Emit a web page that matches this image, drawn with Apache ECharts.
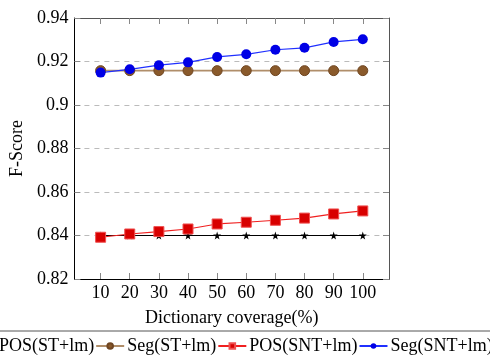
<!DOCTYPE html>
<html><head><meta charset="utf-8">
<script src="https://cdn.jsdelivr.net/npm/echarts@6/dist/echarts.min.js"></script>
<style>html,body{margin:0;padding:0;background:#fff}#c{width:490px;height:356px}</style>
</head><body><div id="c"></div>
<script>
const coverage = [10, 20, 30, 40, 50, 60, 70, 80, 90, 100];
const posST = [0.8400, 0.8400, 0.8400, 0.8400, 0.8400, 0.8400, 0.8400, 0.8400, 0.8400, 0.8400];
const segST = [0.9158, 0.9158, 0.9158, 0.9158, 0.9158, 0.9158, 0.9158, 0.9158, 0.9158, 0.9158];
const posSNT = [0.8392, 0.8407, 0.8418, 0.8430, 0.8453, 0.8461, 0.8470, 0.8480, 0.8499, 0.8513];
const segSNT = [0.9149, 0.9164, 0.9183, 0.9196, 0.9221, 0.9233, 0.9254, 0.9263, 0.9290, 0.9302];
const seriesNames = ['POS(ST+lm)', 'Seg(ST+lm)', 'POS(SNT+lm)', 'Seg(SNT+lm)'];

const FONT = '"Liberation Serif", "DejaVu Serif", serif';
const FS = 18;
const star = 'path://M50,0 L61,35 L98,35 L68,57 L79,91 L50,70 L21,91 L32,57 L2,35 L39,35 Z';
const pair = a => coverage.map((x, i) => [x, a[i]]);

const chart = echarts.init(document.getElementById('c'), null, {renderer: 'canvas'});
chart.setOption({
  animation: false,
  textStyle: {fontFamily: FONT},
  grid: {left: 74, right: 101, top: 18, bottom: 77},
  xAxis: [{
    type: 'value', min: 1, max: 109, position: 'bottom',
    name: 'Dictionary coverage(%)', nameLocation: 'middle', nameGap: 30,
    nameTextStyle: {fontFamily: FONT, fontSize: FS, color: '#000'},
    axisLine: {show: true, lineStyle: {color: '#000', width: 1}},
    axisTick: {show: true, inside: true, length: 6, customValues: coverage, lineStyle: {color: '#888'}},
    axisLabel: {customValues: coverage, fontFamily: FONT, fontSize: FS, color: '#000', margin: 5},
    splitLine: {show: false}
  }, {
    type: 'value', min: 1, max: 109, position: 'top',
    axisLine: {show: true, lineStyle: {color: '#555', width: 1}},
    axisTick: {show: true, inside: true, length: 6, customValues: coverage, lineStyle: {color: '#888'}},
    axisLabel: {show: false},
    splitLine: {show: false}
  }],
  yAxis: [{
    type: 'value', min: 0.82, max: 0.94, interval: 0.02, position: 'left',
    name: 'F-Score', nameLocation: 'middle', nameGap: 45,
    nameTextStyle: {fontFamily: FONT, fontSize: FS, color: '#000'},
    axisLine: {show: true, lineStyle: {color: '#000', width: 1}},
    axisTick: {show: true, inside: true, length: 6, lineStyle: {color: '#888'}},
    axisLabel: {fontFamily: FONT, fontSize: FS, color: '#000', margin: 6,
      formatter: v => String(Math.round(v * 100) / 100)},
    splitLine: {show: true, lineStyle: {color: '#bbb', type: [5, 5], width: 1}}
  }, {
    type: 'value', min: 0.82, max: 0.94, interval: 0.02, position: 'right',
    axisLine: {show: true, lineStyle: {color: '#555', width: 1}},
    axisTick: {show: true, inside: true, length: 6, lineStyle: {color: '#888'}},
    axisLabel: {show: false},
    splitLine: {show: false}
  }],
  legend: {
    bottom: 1, left: -33, width: 800, itemGap: 1, itemWidth: 28, itemHeight: 7,
    padding: 0, orient: 'horizontal',
    textStyle: {fontFamily: FONT, fontSize: 18, color: '#000', padding: [0, 0, 0, -2]},
    data: seriesNames
  },
  graphic: [{
    type: 'line', shape: {x1: 0, y1: 331, x2: 490, y2: 331},
    style: {stroke: '#555', lineWidth: 1}
  }],
  series: [{
    name: seriesNames[0], type: 'line', data: pair(posST),
    symbol: star, symbolSize: 8, color: '#000',
    lineStyle: {color: '#000', width: 1}, itemStyle: {color: '#000'}
  }, {
    name: seriesNames[1], type: 'line', data: pair(segST),
    symbol: 'circle', symbolSize: 10, color: '#a67c52',
    lineStyle: {color: '#b08e6a', width: 1.6},
    itemStyle: {color: '#8a5a2b', borderColor: '#6f4622', borderWidth: 1}
  }, {
    name: seriesNames[2], type: 'line', data: pair(posSNT),
    symbol: 'rect', symbolSize: 10, color: '#e01010',
    lineStyle: {color: '#f02020', width: 1.2},
    itemStyle: {color: '#d80000', borderColor: '#f05050', borderWidth: 1}
  }, {
    name: seriesNames[3], type: 'line', data: pair(segSNT),
    symbol: 'circle', symbolSize: 10, color: '#0000ee',
    lineStyle: {color: '#2030ff', width: 1.2},
    itemStyle: {color: '#0000e6'}
  }]
});
</script></body></html>
